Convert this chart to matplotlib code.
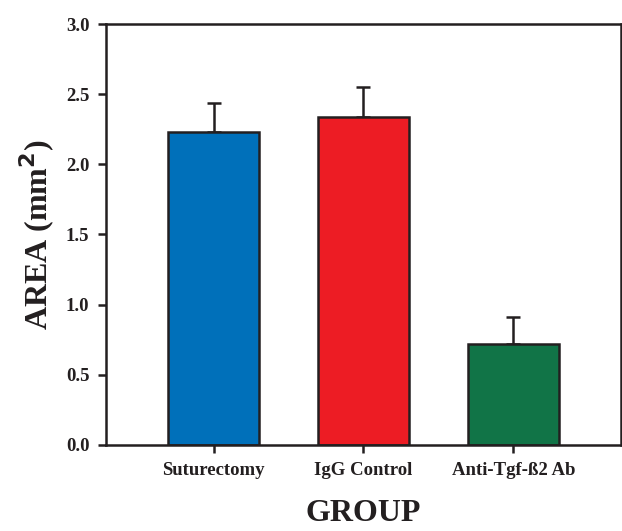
import matplotlib.pyplot as plt
import numpy as np

groups = ['Suturectomy', 'IgG Control', 'Anti-Tgf-ß2 Ab']
area = [2.23, 2.34, 0.72]
err = [0.21, 0.21, 0.19]
colors = ['#0070BA', '#ED1C24', '#117447']

plt.rcParams['font.family'] = ['Liberation Serif', 'DejaVu Serif']
plt.rcParams['font.weight'] = 'bold'

fig = plt.figure(figsize=(6.22, 5.31), dpi=100)
ax = fig.add_axes([0.1704, 0.162, 0.828, 0.7928])

x = np.arange(len(groups))
ax.bar(x, area, width=0.607, color=colors, edgecolor='#231f20', linewidth=1.8, zorder=2)
ax.errorbar(x, area, yerr=[np.zeros(3), err], fmt='none', ecolor='#231f20',
            elinewidth=1.8, capsize=5, capthick=1.8, zorder=1)

ax.set_xlim(-0.717, 2.717)
ax.set_ylim(0, 3.0)
ax.set_yticks([0, 0.5, 1.0, 1.5, 2.0, 2.5, 3.0])
ax.set_yticklabels(['0.0', '0.5', '1.0', '1.5', '2.0', '2.5', '3.0'])
ax.set_xticks(x)
ax.set_xticklabels(groups)
for s in ax.spines.values():
    s.set_linewidth(1.8)
    s.set_color('#231f20')
ax.tick_params(axis='both', direction='out', length=6, width=1.8, color='#231f20',
               labelsize=13.5, labelcolor='#231f20')
ax.tick_params(axis='y', pad=6)
ax.tick_params(axis='x', pad=6)

ax.set_ylabel('AREA (mm$^\\mathbf{2}$)', fontsize=23, fontweight='bold', color='#231f20', labelpad=6)
ax.set_xlabel('GROUP', fontsize=23, fontweight='bold', color='#231f20', labelpad=15)

fig.savefig('out.png', dpi=100)
